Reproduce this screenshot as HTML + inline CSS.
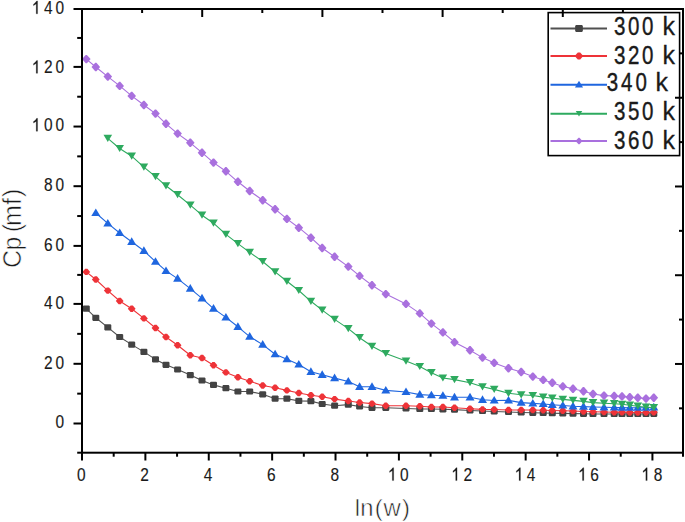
<!DOCTYPE html>
<html><head><meta charset="utf-8">
<style>
html,body{margin:0;padding:0;background:#fff;}
body{width:685px;height:522px;overflow:hidden;}
svg{display:block;}
text{font-family:"Liberation Sans",sans-serif;fill:#1a1a1a;stroke:#1a1a1a;stroke-width:0.15px;}
path.g1{fill:#1a1a1a;stroke:#1a1a1a;stroke-width:25px;}
</style></head>
<body>
<svg width="685" height="522" viewBox="0 0 685 522">
<rect width="685" height="522" fill="#fff"/>
<g>
<polyline fill="none" stroke="#505050" stroke-width="1.1" stroke-linejoin="round" points="86.3,308.6 95.8,317.8 107.8,327.4 119.7,337 131.7,344.6 143.9,351.9 155.5,359.4 166,364.8 177.6,369.5 190.3,375.1 202,380.5 213.5,384.9 225.9,388.2 237.9,391.5 249.7,391.5 262.7,394.3 275.1,398.7 286.9,398.7 298.8,400.9 310.9,401.1 322.2,404 334.6,405.7 348.3,404.6 359.6,406.5 372,407.8 385.8,407.8 406,408.5 419.8,409 431.4,409 442.9,409.3 454.5,409.6 470,410.5 482.5,411 494.2,411.5 508.5,412 521.2,412.5 532.8,412.8 543.2,413 552.3,413.2 562.8,413.4 573,413.6 583.5,413.8 593,414 604,414 614.2,414 622,414 629.8,414 637.8,414 646,414 653.8,413.8"/>
<polygon points="83.6,305.5 89,305.5 89.8,306.3 89.8,310.9 89,311.7 83.6,311.7 82.8,310.9 82.8,306.3" fill="#434343"/>
<polygon points="93.1,314.7 98.5,314.7 99.3,315.5 99.3,320.1 98.5,320.9 93.1,320.9 92.3,320.1 92.3,315.5" fill="#434343"/>
<polygon points="105.1,324.3 110.5,324.3 111.3,325.1 111.3,329.7 110.5,330.5 105.1,330.5 104.3,329.7 104.3,325.1" fill="#434343"/>
<polygon points="117,333.9 122.4,333.9 123.2,334.7 123.2,339.3 122.4,340.1 117,340.1 116.2,339.3 116.2,334.7" fill="#434343"/>
<polygon points="129,341.5 134.4,341.5 135.2,342.3 135.2,346.9 134.4,347.7 129,347.7 128.2,346.9 128.2,342.3" fill="#434343"/>
<polygon points="141.2,348.8 146.6,348.8 147.4,349.6 147.4,354.2 146.6,355 141.2,355 140.4,354.2 140.4,349.6" fill="#434343"/>
<polygon points="152.8,356.3 158.2,356.3 159,357.1 159,361.7 158.2,362.5 152.8,362.5 152,361.7 152,357.1" fill="#434343"/>
<polygon points="163.3,361.7 168.7,361.7 169.5,362.5 169.5,367.1 168.7,367.9 163.3,367.9 162.5,367.1 162.5,362.5" fill="#434343"/>
<polygon points="174.9,366.4 180.3,366.4 181.1,367.2 181.1,371.8 180.3,372.6 174.9,372.6 174.1,371.8 174.1,367.2" fill="#434343"/>
<polygon points="187.6,372 193,372 193.8,372.8 193.8,377.4 193,378.2 187.6,378.2 186.8,377.4 186.8,372.8" fill="#434343"/>
<polygon points="199.3,377.4 204.7,377.4 205.5,378.2 205.5,382.8 204.7,383.6 199.3,383.6 198.5,382.8 198.5,378.2" fill="#434343"/>
<polygon points="210.8,381.8 216.2,381.8 217,382.6 217,387.2 216.2,388 210.8,388 210,387.2 210,382.6" fill="#434343"/>
<polygon points="223.2,385.1 228.6,385.1 229.4,385.9 229.4,390.5 228.6,391.3 223.2,391.3 222.4,390.5 222.4,385.9" fill="#434343"/>
<polygon points="235.2,388.4 240.6,388.4 241.4,389.2 241.4,393.8 240.6,394.6 235.2,394.6 234.4,393.8 234.4,389.2" fill="#434343"/>
<polygon points="247,388.4 252.4,388.4 253.2,389.2 253.2,393.8 252.4,394.6 247,394.6 246.2,393.8 246.2,389.2" fill="#434343"/>
<polygon points="260,391.2 265.4,391.2 266.2,392 266.2,396.6 265.4,397.4 260,397.4 259.2,396.6 259.2,392" fill="#434343"/>
<polygon points="272.4,395.6 277.8,395.6 278.6,396.4 278.6,401 277.8,401.8 272.4,401.8 271.6,401 271.6,396.4" fill="#434343"/>
<polygon points="284.2,395.6 289.6,395.6 290.4,396.4 290.4,401 289.6,401.8 284.2,401.8 283.4,401 283.4,396.4" fill="#434343"/>
<polygon points="296.1,397.8 301.5,397.8 302.3,398.6 302.3,403.2 301.5,404 296.1,404 295.3,403.2 295.3,398.6" fill="#434343"/>
<polygon points="308.2,398 313.6,398 314.4,398.8 314.4,403.4 313.6,404.2 308.2,404.2 307.4,403.4 307.4,398.8" fill="#434343"/>
<polygon points="319.5,400.9 324.9,400.9 325.7,401.7 325.7,406.3 324.9,407.1 319.5,407.1 318.7,406.3 318.7,401.7" fill="#434343"/>
<polygon points="331.9,402.6 337.3,402.6 338.1,403.4 338.1,408 337.3,408.8 331.9,408.8 331.1,408 331.1,403.4" fill="#434343"/>
<polygon points="345.6,401.5 351,401.5 351.8,402.3 351.8,406.9 351,407.7 345.6,407.7 344.8,406.9 344.8,402.3" fill="#434343"/>
<polygon points="356.9,403.4 362.3,403.4 363.1,404.2 363.1,408.8 362.3,409.6 356.9,409.6 356.1,408.8 356.1,404.2" fill="#434343"/>
<polygon points="369.3,404.7 374.7,404.7 375.5,405.5 375.5,410.1 374.7,410.9 369.3,410.9 368.5,410.1 368.5,405.5" fill="#434343"/>
<polygon points="383.1,404.7 388.5,404.7 389.3,405.5 389.3,410.1 388.5,410.9 383.1,410.9 382.3,410.1 382.3,405.5" fill="#434343"/>
<polygon points="403.3,405.4 408.7,405.4 409.5,406.2 409.5,410.8 408.7,411.6 403.3,411.6 402.5,410.8 402.5,406.2" fill="#434343"/>
<polygon points="417.1,405.9 422.5,405.9 423.3,406.7 423.3,411.3 422.5,412.1 417.1,412.1 416.3,411.3 416.3,406.7" fill="#434343"/>
<polygon points="428.7,405.9 434.1,405.9 434.9,406.7 434.9,411.3 434.1,412.1 428.7,412.1 427.9,411.3 427.9,406.7" fill="#434343"/>
<polygon points="440.2,406.2 445.6,406.2 446.4,407 446.4,411.6 445.6,412.4 440.2,412.4 439.4,411.6 439.4,407" fill="#434343"/>
<polygon points="451.8,406.5 457.2,406.5 458,407.3 458,411.9 457.2,412.7 451.8,412.7 451,411.9 451,407.3" fill="#434343"/>
<polygon points="467.3,407.4 472.7,407.4 473.5,408.2 473.5,412.8 472.7,413.6 467.3,413.6 466.5,412.8 466.5,408.2" fill="#434343"/>
<polygon points="479.8,407.9 485.2,407.9 486,408.7 486,413.3 485.2,414.1 479.8,414.1 479,413.3 479,408.7" fill="#434343"/>
<polygon points="491.5,408.4 496.9,408.4 497.7,409.2 497.7,413.8 496.9,414.6 491.5,414.6 490.7,413.8 490.7,409.2" fill="#434343"/>
<polygon points="505.8,408.9 511.2,408.9 512,409.7 512,414.3 511.2,415.1 505.8,415.1 505,414.3 505,409.7" fill="#434343"/>
<polygon points="518.5,409.4 523.9,409.4 524.7,410.2 524.7,414.8 523.9,415.6 518.5,415.6 517.7,414.8 517.7,410.2" fill="#434343"/>
<polygon points="530.1,409.7 535.5,409.7 536.3,410.5 536.3,415.1 535.5,415.9 530.1,415.9 529.3,415.1 529.3,410.5" fill="#434343"/>
<polygon points="540.5,409.9 545.9,409.9 546.7,410.7 546.7,415.3 545.9,416.1 540.5,416.1 539.7,415.3 539.7,410.7" fill="#434343"/>
<polygon points="549.6,410.1 555,410.1 555.8,410.9 555.8,415.5 555,416.3 549.6,416.3 548.8,415.5 548.8,410.9" fill="#434343"/>
<polygon points="560.1,410.3 565.5,410.3 566.3,411.1 566.3,415.7 565.5,416.5 560.1,416.5 559.3,415.7 559.3,411.1" fill="#434343"/>
<polygon points="570.3,410.5 575.7,410.5 576.5,411.3 576.5,415.9 575.7,416.7 570.3,416.7 569.5,415.9 569.5,411.3" fill="#434343"/>
<polygon points="580.8,410.7 586.2,410.7 587,411.5 587,416.1 586.2,416.9 580.8,416.9 580,416.1 580,411.5" fill="#434343"/>
<polygon points="590.3,410.9 595.7,410.9 596.5,411.7 596.5,416.3 595.7,417.1 590.3,417.1 589.5,416.3 589.5,411.7" fill="#434343"/>
<polygon points="601.3,410.9 606.7,410.9 607.5,411.7 607.5,416.3 606.7,417.1 601.3,417.1 600.5,416.3 600.5,411.7" fill="#434343"/>
<polygon points="611.5,410.9 616.9,410.9 617.7,411.7 617.7,416.3 616.9,417.1 611.5,417.1 610.7,416.3 610.7,411.7" fill="#434343"/>
<polygon points="619.3,410.9 624.7,410.9 625.5,411.7 625.5,416.3 624.7,417.1 619.3,417.1 618.5,416.3 618.5,411.7" fill="#434343"/>
<polygon points="627.1,410.9 632.5,410.9 633.3,411.7 633.3,416.3 632.5,417.1 627.1,417.1 626.3,416.3 626.3,411.7" fill="#434343"/>
<polygon points="635.1,410.9 640.5,410.9 641.3,411.7 641.3,416.3 640.5,417.1 635.1,417.1 634.3,416.3 634.3,411.7" fill="#434343"/>
<polygon points="643.3,410.9 648.7,410.9 649.5,411.7 649.5,416.3 648.7,417.1 643.3,417.1 642.5,416.3 642.5,411.7" fill="#434343"/>
<polygon points="651.1,410.7 656.5,410.7 657.3,411.5 657.3,416.1 656.5,416.9 651.1,416.9 650.3,416.1 650.3,411.5" fill="#434343"/>
<polyline fill="none" stroke="#ee3338" stroke-width="1.1" stroke-linejoin="round" points="86.3,271.9 95.8,279.5 107.8,290.6 119.7,301 131.7,308.7 143.9,318.4 155.5,328 166,337 177.6,345.2 190.3,355.3 202,358 213.5,365.2 225.9,372.4 237.9,377.2 249.7,381.2 262.7,385.5 275.1,387.7 286.9,390.4 298.8,393 310.9,395.2 322.2,396.7 334.6,399.1 348.3,401 359.6,402.5 372,403.6 385.8,405.7 406,405.7 419.8,406.2 431.4,407 442.9,407 454.5,407.8 470,408.8 482.5,409.4 494.2,409.5 508.5,410 521.2,410 532.8,410 543.2,410.3 552.3,410.5 562.8,410.8 573,411 583.5,411.5 593,411.8 604,412 614.2,412.3 622,412.3 629.8,412.5 637.8,412.5 646,412.5 653.8,412.3"/>
<polygon points="85.2,268.7 87.4,268.7 90.2,271.9 87.4,275.1 85.2,275.1 82.4,271.9" fill="#ee3338"/>
<polygon points="94.7,276.3 96.9,276.3 99.7,279.5 96.9,282.7 94.7,282.7 91.9,279.5" fill="#ee3338"/>
<polygon points="106.7,287.4 108.9,287.4 111.7,290.6 108.9,293.8 106.7,293.8 103.9,290.6" fill="#ee3338"/>
<polygon points="118.6,297.8 120.8,297.8 123.6,301 120.8,304.2 118.6,304.2 115.8,301" fill="#ee3338"/>
<polygon points="130.6,305.5 132.8,305.5 135.6,308.7 132.8,311.9 130.6,311.9 127.8,308.7" fill="#ee3338"/>
<polygon points="142.8,315.2 145,315.2 147.8,318.4 145,321.6 142.8,321.6 140,318.4" fill="#ee3338"/>
<polygon points="154.4,324.8 156.6,324.8 159.4,328 156.6,331.2 154.4,331.2 151.6,328" fill="#ee3338"/>
<polygon points="164.9,333.8 167.1,333.8 169.9,337 167.1,340.2 164.9,340.2 162.1,337" fill="#ee3338"/>
<polygon points="176.5,342 178.7,342 181.5,345.2 178.7,348.4 176.5,348.4 173.7,345.2" fill="#ee3338"/>
<polygon points="189.2,352.1 191.4,352.1 194.2,355.3 191.4,358.5 189.2,358.5 186.4,355.3" fill="#ee3338"/>
<polygon points="200.9,354.8 203.1,354.8 205.9,358 203.1,361.2 200.9,361.2 198.1,358" fill="#ee3338"/>
<polygon points="212.4,362 214.6,362 217.4,365.2 214.6,368.4 212.4,368.4 209.6,365.2" fill="#ee3338"/>
<polygon points="224.8,369.2 227,369.2 229.8,372.4 227,375.6 224.8,375.6 222,372.4" fill="#ee3338"/>
<polygon points="236.8,374 239,374 241.8,377.2 239,380.4 236.8,380.4 234,377.2" fill="#ee3338"/>
<polygon points="248.6,378 250.8,378 253.6,381.2 250.8,384.4 248.6,384.4 245.8,381.2" fill="#ee3338"/>
<polygon points="261.6,382.3 263.8,382.3 266.6,385.5 263.8,388.7 261.6,388.7 258.8,385.5" fill="#ee3338"/>
<polygon points="274,384.5 276.2,384.5 279,387.7 276.2,390.9 274,390.9 271.2,387.7" fill="#ee3338"/>
<polygon points="285.8,387.2 288,387.2 290.8,390.4 288,393.6 285.8,393.6 283,390.4" fill="#ee3338"/>
<polygon points="297.7,389.8 299.9,389.8 302.7,393 299.9,396.2 297.7,396.2 294.9,393" fill="#ee3338"/>
<polygon points="309.8,392 312,392 314.8,395.2 312,398.4 309.8,398.4 307,395.2" fill="#ee3338"/>
<polygon points="321.1,393.5 323.3,393.5 326.1,396.7 323.3,399.9 321.1,399.9 318.3,396.7" fill="#ee3338"/>
<polygon points="333.5,395.9 335.7,395.9 338.5,399.1 335.7,402.3 333.5,402.3 330.7,399.1" fill="#ee3338"/>
<polygon points="347.2,397.8 349.4,397.8 352.2,401 349.4,404.2 347.2,404.2 344.4,401" fill="#ee3338"/>
<polygon points="358.5,399.3 360.7,399.3 363.5,402.5 360.7,405.7 358.5,405.7 355.7,402.5" fill="#ee3338"/>
<polygon points="370.9,400.4 373.1,400.4 375.9,403.6 373.1,406.8 370.9,406.8 368.1,403.6" fill="#ee3338"/>
<polygon points="384.7,402.5 386.9,402.5 389.7,405.7 386.9,408.9 384.7,408.9 381.9,405.7" fill="#ee3338"/>
<polygon points="404.9,402.5 407.1,402.5 409.9,405.7 407.1,408.9 404.9,408.9 402.1,405.7" fill="#ee3338"/>
<polygon points="418.7,403 420.9,403 423.7,406.2 420.9,409.4 418.7,409.4 415.9,406.2" fill="#ee3338"/>
<polygon points="430.3,403.8 432.5,403.8 435.3,407 432.5,410.2 430.3,410.2 427.5,407" fill="#ee3338"/>
<polygon points="441.8,403.8 444,403.8 446.8,407 444,410.2 441.8,410.2 439,407" fill="#ee3338"/>
<polygon points="453.4,404.6 455.6,404.6 458.4,407.8 455.6,411 453.4,411 450.6,407.8" fill="#ee3338"/>
<polygon points="468.9,405.6 471.1,405.6 473.9,408.8 471.1,412 468.9,412 466.1,408.8" fill="#ee3338"/>
<polygon points="481.4,406.2 483.6,406.2 486.4,409.4 483.6,412.6 481.4,412.6 478.6,409.4" fill="#ee3338"/>
<polygon points="493.1,406.3 495.3,406.3 498.1,409.5 495.3,412.7 493.1,412.7 490.3,409.5" fill="#ee3338"/>
<polygon points="507.4,406.8 509.6,406.8 512.4,410 509.6,413.2 507.4,413.2 504.6,410" fill="#ee3338"/>
<polygon points="520.1,406.8 522.3,406.8 525.1,410 522.3,413.2 520.1,413.2 517.3,410" fill="#ee3338"/>
<polygon points="531.7,406.8 533.9,406.8 536.7,410 533.9,413.2 531.7,413.2 528.9,410" fill="#ee3338"/>
<polygon points="542.1,407.1 544.3,407.1 547.1,410.3 544.3,413.5 542.1,413.5 539.3,410.3" fill="#ee3338"/>
<polygon points="551.2,407.3 553.4,407.3 556.2,410.5 553.4,413.7 551.2,413.7 548.4,410.5" fill="#ee3338"/>
<polygon points="561.7,407.6 563.9,407.6 566.7,410.8 563.9,414 561.7,414 558.9,410.8" fill="#ee3338"/>
<polygon points="571.9,407.8 574.1,407.8 576.9,411 574.1,414.2 571.9,414.2 569.1,411" fill="#ee3338"/>
<polygon points="582.4,408.3 584.6,408.3 587.4,411.5 584.6,414.7 582.4,414.7 579.6,411.5" fill="#ee3338"/>
<polygon points="591.9,408.6 594.1,408.6 596.9,411.8 594.1,415 591.9,415 589.1,411.8" fill="#ee3338"/>
<polygon points="602.9,408.8 605.1,408.8 607.9,412 605.1,415.2 602.9,415.2 600.1,412" fill="#ee3338"/>
<polygon points="613.1,409.1 615.3,409.1 618.1,412.3 615.3,415.5 613.1,415.5 610.3,412.3" fill="#ee3338"/>
<polygon points="620.9,409.1 623.1,409.1 625.9,412.3 623.1,415.5 620.9,415.5 618.1,412.3" fill="#ee3338"/>
<polygon points="628.7,409.3 630.9,409.3 633.7,412.5 630.9,415.7 628.7,415.7 625.9,412.5" fill="#ee3338"/>
<polygon points="636.7,409.3 638.9,409.3 641.7,412.5 638.9,415.7 636.7,415.7 633.9,412.5" fill="#ee3338"/>
<polygon points="644.9,409.3 647.1,409.3 649.9,412.5 647.1,415.7 644.9,415.7 642.1,412.5" fill="#ee3338"/>
<polygon points="652.7,409.1 654.9,409.1 657.7,412.3 654.9,415.5 652.7,415.5 649.9,412.3" fill="#ee3338"/>
<polyline fill="none" stroke="#1f66df" stroke-width="1.1" stroke-linejoin="round" points="95.8,213 107.8,223.4 119.7,233 131.7,241.8 143.9,250.8 155.5,261.7 166,270.9 177.6,278.6 190.3,288.6 202,298.3 213.5,308.6 225.9,317.4 237.9,326.8 249.7,336.6 262.7,344.6 275.1,354.2 286.9,359.2 298.8,364.5 310.9,371.8 322.2,374.8 334.6,378.1 348.3,381.5 359.6,386.8 372,386.8 385.8,390.4 406,392 419.8,394.6 431.4,395.2 442.9,395.7 454.5,397.3 470,397.3 482.5,399.8 494.2,400.5 508.5,400.4 521.2,402.6 532.8,403.4 543.2,404 552.3,404.8 562.8,405.5 573,406.3 583.5,406.6 593,407 604,407.3 614.2,407.5 622,407.6 629.8,407.7 637.8,407.7 646,407.6 653.8,407.3"/>
<polygon points="95.8,208.5 100.3,216.1 91.3,216.1" fill="#1f66df"/>
<polygon points="107.8,218.9 112.3,226.5 103.3,226.5" fill="#1f66df"/>
<polygon points="119.7,228.5 124.2,236.1 115.2,236.1" fill="#1f66df"/>
<polygon points="131.7,237.3 136.2,244.9 127.2,244.9" fill="#1f66df"/>
<polygon points="143.9,246.3 148.4,253.9 139.4,253.9" fill="#1f66df"/>
<polygon points="155.5,257.2 160,264.8 151,264.8" fill="#1f66df"/>
<polygon points="166,266.4 170.5,274 161.5,274" fill="#1f66df"/>
<polygon points="177.6,274.1 182.1,281.7 173.1,281.7" fill="#1f66df"/>
<polygon points="190.3,284.1 194.8,291.7 185.8,291.7" fill="#1f66df"/>
<polygon points="202,293.8 206.5,301.4 197.5,301.4" fill="#1f66df"/>
<polygon points="213.5,304.1 218,311.7 209,311.7" fill="#1f66df"/>
<polygon points="225.9,312.9 230.4,320.5 221.4,320.5" fill="#1f66df"/>
<polygon points="237.9,322.3 242.4,329.9 233.4,329.9" fill="#1f66df"/>
<polygon points="249.7,332.1 254.2,339.7 245.2,339.7" fill="#1f66df"/>
<polygon points="262.7,340.1 267.2,347.7 258.2,347.7" fill="#1f66df"/>
<polygon points="275.1,349.7 279.6,357.3 270.6,357.3" fill="#1f66df"/>
<polygon points="286.9,354.7 291.4,362.3 282.4,362.3" fill="#1f66df"/>
<polygon points="298.8,360 303.3,367.6 294.3,367.6" fill="#1f66df"/>
<polygon points="310.9,367.3 315.4,374.9 306.4,374.9" fill="#1f66df"/>
<polygon points="322.2,370.3 326.7,377.9 317.7,377.9" fill="#1f66df"/>
<polygon points="334.6,373.6 339.1,381.2 330.1,381.2" fill="#1f66df"/>
<polygon points="348.3,377 352.8,384.6 343.8,384.6" fill="#1f66df"/>
<polygon points="359.6,382.3 364.1,389.9 355.1,389.9" fill="#1f66df"/>
<polygon points="372,382.3 376.5,389.9 367.5,389.9" fill="#1f66df"/>
<polygon points="385.8,385.9 390.3,393.5 381.3,393.5" fill="#1f66df"/>
<polygon points="406,387.5 410.5,395.1 401.5,395.1" fill="#1f66df"/>
<polygon points="419.8,390.1 424.3,397.7 415.3,397.7" fill="#1f66df"/>
<polygon points="431.4,390.7 435.9,398.3 426.9,398.3" fill="#1f66df"/>
<polygon points="442.9,391.2 447.4,398.8 438.4,398.8" fill="#1f66df"/>
<polygon points="454.5,392.8 459,400.4 450,400.4" fill="#1f66df"/>
<polygon points="470,392.8 474.5,400.4 465.5,400.4" fill="#1f66df"/>
<polygon points="482.5,395.3 487,402.9 478,402.9" fill="#1f66df"/>
<polygon points="494.2,396 498.7,403.6 489.7,403.6" fill="#1f66df"/>
<polygon points="508.5,395.9 513,403.5 504,403.5" fill="#1f66df"/>
<polygon points="521.2,398.1 525.7,405.7 516.7,405.7" fill="#1f66df"/>
<polygon points="532.8,398.9 537.3,406.5 528.3,406.5" fill="#1f66df"/>
<polygon points="543.2,399.5 547.7,407.1 538.7,407.1" fill="#1f66df"/>
<polygon points="552.3,400.3 556.8,407.9 547.8,407.9" fill="#1f66df"/>
<polygon points="562.8,401 567.3,408.6 558.3,408.6" fill="#1f66df"/>
<polygon points="573,401.8 577.5,409.4 568.5,409.4" fill="#1f66df"/>
<polygon points="583.5,402.1 588,409.7 579,409.7" fill="#1f66df"/>
<polygon points="593,402.5 597.5,410.1 588.5,410.1" fill="#1f66df"/>
<polygon points="604,402.8 608.5,410.4 599.5,410.4" fill="#1f66df"/>
<polygon points="614.2,403 618.7,410.6 609.7,410.6" fill="#1f66df"/>
<polygon points="622,403.1 626.5,410.7 617.5,410.7" fill="#1f66df"/>
<polygon points="629.8,403.2 634.3,410.8 625.3,410.8" fill="#1f66df"/>
<polygon points="637.8,403.2 642.3,410.8 633.3,410.8" fill="#1f66df"/>
<polygon points="646,403.1 650.5,410.7 641.5,410.7" fill="#1f66df"/>
<polygon points="653.8,402.8 658.3,410.4 649.3,410.4" fill="#1f66df"/>
<polyline fill="none" stroke="#2eaa5f" stroke-width="1.1" stroke-linejoin="round" points="107.8,138.3 119.7,148.5 131.7,156.2 143.9,167.1 155.5,176.7 166,185.8 177.6,194.7 190.3,205.1 202,215.2 213.5,223.2 225.9,234.4 237.9,243.6 249.7,252.4 262.7,261.5 275.1,271.8 286.9,281.3 298.8,290.5 310.9,301.3 322.2,310.1 334.6,319.4 348.3,328.6 359.6,337.7 372,346.3 385.8,353.5 406,361.1 419.8,366.5 431.4,372.7 442.9,378 454.5,379.6 470,382.7 482.5,386.8 494.2,389.4 508.5,393.3 521.2,394.8 532.8,395.5 543.2,397.1 552.3,398.2 562.8,399.4 573,400.4 583.5,401.4 593,402.6 604,403.2 614.2,403.7 622,404.3 629.8,405.2 637.8,406.2 646,407.2 653.8,407.7"/>
<polygon points="103.5,134.7 112.1,134.7 107.8,141.9" fill="#2eaa5f"/>
<polygon points="115.4,144.9 124,144.9 119.7,152.1" fill="#2eaa5f"/>
<polygon points="127.4,152.6 136,152.6 131.7,159.8" fill="#2eaa5f"/>
<polygon points="139.6,163.5 148.2,163.5 143.9,170.7" fill="#2eaa5f"/>
<polygon points="151.2,173.1 159.8,173.1 155.5,180.3" fill="#2eaa5f"/>
<polygon points="161.7,182.2 170.3,182.2 166,189.4" fill="#2eaa5f"/>
<polygon points="173.3,191.1 181.9,191.1 177.6,198.3" fill="#2eaa5f"/>
<polygon points="186,201.5 194.6,201.5 190.3,208.7" fill="#2eaa5f"/>
<polygon points="197.7,211.6 206.3,211.6 202,218.8" fill="#2eaa5f"/>
<polygon points="209.2,219.6 217.8,219.6 213.5,226.8" fill="#2eaa5f"/>
<polygon points="221.6,230.8 230.2,230.8 225.9,238" fill="#2eaa5f"/>
<polygon points="233.6,240 242.2,240 237.9,247.2" fill="#2eaa5f"/>
<polygon points="245.4,248.8 254,248.8 249.7,256" fill="#2eaa5f"/>
<polygon points="258.4,257.9 267,257.9 262.7,265.1" fill="#2eaa5f"/>
<polygon points="270.8,268.2 279.4,268.2 275.1,275.4" fill="#2eaa5f"/>
<polygon points="282.6,277.7 291.2,277.7 286.9,284.9" fill="#2eaa5f"/>
<polygon points="294.5,286.9 303.1,286.9 298.8,294.1" fill="#2eaa5f"/>
<polygon points="306.6,297.7 315.2,297.7 310.9,304.9" fill="#2eaa5f"/>
<polygon points="317.9,306.5 326.5,306.5 322.2,313.7" fill="#2eaa5f"/>
<polygon points="330.3,315.8 338.9,315.8 334.6,323" fill="#2eaa5f"/>
<polygon points="344,325 352.6,325 348.3,332.2" fill="#2eaa5f"/>
<polygon points="355.3,334.1 363.9,334.1 359.6,341.3" fill="#2eaa5f"/>
<polygon points="367.7,342.7 376.3,342.7 372,349.9" fill="#2eaa5f"/>
<polygon points="381.5,349.9 390.1,349.9 385.8,357.1" fill="#2eaa5f"/>
<polygon points="401.7,357.5 410.3,357.5 406,364.7" fill="#2eaa5f"/>
<polygon points="415.5,362.9 424.1,362.9 419.8,370.1" fill="#2eaa5f"/>
<polygon points="427.1,369.1 435.7,369.1 431.4,376.3" fill="#2eaa5f"/>
<polygon points="438.6,374.4 447.2,374.4 442.9,381.6" fill="#2eaa5f"/>
<polygon points="450.2,376 458.8,376 454.5,383.2" fill="#2eaa5f"/>
<polygon points="465.7,379.1 474.3,379.1 470,386.3" fill="#2eaa5f"/>
<polygon points="478.2,383.2 486.8,383.2 482.5,390.4" fill="#2eaa5f"/>
<polygon points="489.9,385.8 498.5,385.8 494.2,393" fill="#2eaa5f"/>
<polygon points="504.2,389.7 512.8,389.7 508.5,396.9" fill="#2eaa5f"/>
<polygon points="516.9,391.2 525.5,391.2 521.2,398.4" fill="#2eaa5f"/>
<polygon points="528.5,391.9 537.1,391.9 532.8,399.1" fill="#2eaa5f"/>
<polygon points="538.9,393.5 547.5,393.5 543.2,400.7" fill="#2eaa5f"/>
<polygon points="548,394.6 556.6,394.6 552.3,401.8" fill="#2eaa5f"/>
<polygon points="558.5,395.8 567.1,395.8 562.8,403" fill="#2eaa5f"/>
<polygon points="568.7,396.8 577.3,396.8 573,404" fill="#2eaa5f"/>
<polygon points="579.2,397.8 587.8,397.8 583.5,405" fill="#2eaa5f"/>
<polygon points="588.7,399 597.3,399 593,406.2" fill="#2eaa5f"/>
<polygon points="599.7,399.6 608.3,399.6 604,406.8" fill="#2eaa5f"/>
<polygon points="609.9,400.1 618.5,400.1 614.2,407.3" fill="#2eaa5f"/>
<polygon points="617.7,400.7 626.3,400.7 622,407.9" fill="#2eaa5f"/>
<polygon points="625.5,401.6 634.1,401.6 629.8,408.8" fill="#2eaa5f"/>
<polygon points="633.5,402.6 642.1,402.6 637.8,409.8" fill="#2eaa5f"/>
<polygon points="641.7,403.6 650.3,403.6 646,410.8" fill="#2eaa5f"/>
<polygon points="649.5,404.1 658.1,404.1 653.8,411.3" fill="#2eaa5f"/>
<polyline fill="none" stroke="#a970de" stroke-width="1.1" stroke-linejoin="round" points="86.3,59.1 95.8,67 107.8,76.6 119.7,85.9 131.7,95.9 143.9,105 155.5,113.6 166,123.8 177.6,133.6 190.3,142.8 202,152.7 213.5,162.6 225.9,171.3 237.9,181.8 249.7,191 262.7,200.2 275.1,209.2 286.9,218.9 298.8,227.7 310.9,237.7 322.2,248 334.6,256.8 348.3,266.6 359.6,275.9 372,285.3 385.8,294.1 406,303.9 419.8,313.4 431.4,323.6 442.9,332.4 454.5,342.2 470,350.3 482.5,357.6 494.2,362.9 508.5,368.3 521.2,372 532.8,376.6 543.2,379.9 552.3,382.8 562.8,386.4 573,388.8 583.5,391.2 593,394 604,395.6 614.2,396 622,396.4 629.8,397.2 637.8,397.8 646,398.6 653.8,397.8"/>
<polygon points="85.7,54.9 86.9,54.9 90.6,59.1 86.9,63.3 85.7,63.3 82,59.1" fill="#a970de"/>
<polygon points="95.2,62.8 96.4,62.8 100.1,67 96.4,71.2 95.2,71.2 91.5,67" fill="#a970de"/>
<polygon points="107.2,72.4 108.4,72.4 112.1,76.6 108.4,80.8 107.2,80.8 103.5,76.6" fill="#a970de"/>
<polygon points="119.1,81.7 120.3,81.7 124,85.9 120.3,90.1 119.1,90.1 115.4,85.9" fill="#a970de"/>
<polygon points="131.1,91.7 132.3,91.7 136,95.9 132.3,100.1 131.1,100.1 127.4,95.9" fill="#a970de"/>
<polygon points="143.3,100.8 144.5,100.8 148.2,105 144.5,109.2 143.3,109.2 139.6,105" fill="#a970de"/>
<polygon points="154.9,109.4 156.1,109.4 159.8,113.6 156.1,117.8 154.9,117.8 151.2,113.6" fill="#a970de"/>
<polygon points="165.4,119.6 166.6,119.6 170.3,123.8 166.6,128 165.4,128 161.7,123.8" fill="#a970de"/>
<polygon points="177,129.4 178.2,129.4 181.9,133.6 178.2,137.8 177,137.8 173.3,133.6" fill="#a970de"/>
<polygon points="189.7,138.6 190.9,138.6 194.6,142.8 190.9,147 189.7,147 186,142.8" fill="#a970de"/>
<polygon points="201.4,148.5 202.6,148.5 206.3,152.7 202.6,156.9 201.4,156.9 197.7,152.7" fill="#a970de"/>
<polygon points="212.9,158.4 214.1,158.4 217.8,162.6 214.1,166.8 212.9,166.8 209.2,162.6" fill="#a970de"/>
<polygon points="225.3,167.1 226.5,167.1 230.2,171.3 226.5,175.5 225.3,175.5 221.6,171.3" fill="#a970de"/>
<polygon points="237.3,177.6 238.5,177.6 242.2,181.8 238.5,186 237.3,186 233.6,181.8" fill="#a970de"/>
<polygon points="249.1,186.8 250.3,186.8 254,191 250.3,195.2 249.1,195.2 245.4,191" fill="#a970de"/>
<polygon points="262.1,196 263.3,196 267,200.2 263.3,204.4 262.1,204.4 258.4,200.2" fill="#a970de"/>
<polygon points="274.5,205 275.7,205 279.4,209.2 275.7,213.4 274.5,213.4 270.8,209.2" fill="#a970de"/>
<polygon points="286.3,214.7 287.5,214.7 291.2,218.9 287.5,223.1 286.3,223.1 282.6,218.9" fill="#a970de"/>
<polygon points="298.2,223.5 299.4,223.5 303.1,227.7 299.4,231.9 298.2,231.9 294.5,227.7" fill="#a970de"/>
<polygon points="310.3,233.5 311.5,233.5 315.2,237.7 311.5,241.9 310.3,241.9 306.6,237.7" fill="#a970de"/>
<polygon points="321.6,243.8 322.8,243.8 326.5,248 322.8,252.2 321.6,252.2 317.9,248" fill="#a970de"/>
<polygon points="334,252.6 335.2,252.6 338.9,256.8 335.2,261 334,261 330.3,256.8" fill="#a970de"/>
<polygon points="347.7,262.4 348.9,262.4 352.6,266.6 348.9,270.8 347.7,270.8 344,266.6" fill="#a970de"/>
<polygon points="359,271.7 360.2,271.7 363.9,275.9 360.2,280.1 359,280.1 355.3,275.9" fill="#a970de"/>
<polygon points="371.4,281.1 372.6,281.1 376.3,285.3 372.6,289.5 371.4,289.5 367.7,285.3" fill="#a970de"/>
<polygon points="385.2,289.9 386.4,289.9 390.1,294.1 386.4,298.3 385.2,298.3 381.5,294.1" fill="#a970de"/>
<polygon points="405.4,299.7 406.6,299.7 410.3,303.9 406.6,308.1 405.4,308.1 401.7,303.9" fill="#a970de"/>
<polygon points="419.2,309.2 420.4,309.2 424.1,313.4 420.4,317.6 419.2,317.6 415.5,313.4" fill="#a970de"/>
<polygon points="430.8,319.4 432,319.4 435.7,323.6 432,327.8 430.8,327.8 427.1,323.6" fill="#a970de"/>
<polygon points="442.3,328.2 443.5,328.2 447.2,332.4 443.5,336.6 442.3,336.6 438.6,332.4" fill="#a970de"/>
<polygon points="453.9,338 455.1,338 458.8,342.2 455.1,346.4 453.9,346.4 450.2,342.2" fill="#a970de"/>
<polygon points="469.4,346.1 470.6,346.1 474.3,350.3 470.6,354.5 469.4,354.5 465.7,350.3" fill="#a970de"/>
<polygon points="481.9,353.4 483.1,353.4 486.8,357.6 483.1,361.8 481.9,361.8 478.2,357.6" fill="#a970de"/>
<polygon points="493.6,358.7 494.8,358.7 498.5,362.9 494.8,367.1 493.6,367.1 489.9,362.9" fill="#a970de"/>
<polygon points="507.9,364.1 509.1,364.1 512.8,368.3 509.1,372.5 507.9,372.5 504.2,368.3" fill="#a970de"/>
<polygon points="520.6,367.8 521.8,367.8 525.5,372 521.8,376.2 520.6,376.2 516.9,372" fill="#a970de"/>
<polygon points="532.2,372.4 533.4,372.4 537.1,376.6 533.4,380.8 532.2,380.8 528.5,376.6" fill="#a970de"/>
<polygon points="542.6,375.7 543.8,375.7 547.5,379.9 543.8,384.1 542.6,384.1 538.9,379.9" fill="#a970de"/>
<polygon points="551.7,378.6 552.9,378.6 556.6,382.8 552.9,387 551.7,387 548,382.8" fill="#a970de"/>
<polygon points="562.2,382.2 563.4,382.2 567.1,386.4 563.4,390.6 562.2,390.6 558.5,386.4" fill="#a970de"/>
<polygon points="572.4,384.6 573.6,384.6 577.3,388.8 573.6,393 572.4,393 568.7,388.8" fill="#a970de"/>
<polygon points="582.9,387 584.1,387 587.8,391.2 584.1,395.4 582.9,395.4 579.2,391.2" fill="#a970de"/>
<polygon points="592.4,389.8 593.6,389.8 597.3,394 593.6,398.2 592.4,398.2 588.7,394" fill="#a970de"/>
<polygon points="603.4,391.4 604.6,391.4 608.3,395.6 604.6,399.8 603.4,399.8 599.7,395.6" fill="#a970de"/>
<polygon points="613.6,391.8 614.8,391.8 618.5,396 614.8,400.2 613.6,400.2 609.9,396" fill="#a970de"/>
<polygon points="621.4,392.2 622.6,392.2 626.3,396.4 622.6,400.6 621.4,400.6 617.7,396.4" fill="#a970de"/>
<polygon points="629.2,393 630.4,393 634.1,397.2 630.4,401.4 629.2,401.4 625.5,397.2" fill="#a970de"/>
<polygon points="637.2,393.6 638.4,393.6 642.1,397.8 638.4,402 637.2,402 633.5,397.8" fill="#a970de"/>
<polygon points="645.4,394.4 646.6,394.4 650.3,398.6 646.6,402.8 645.4,402.8 641.7,398.6" fill="#a970de"/>
<polygon points="653.2,393.6 654.4,393.6 658.1,397.8 654.4,402 653.2,402 649.5,397.8" fill="#a970de"/>
</g>
<g>
<rect x="548.2" y="12.6" width="131.4" height="143" fill="#fff" stroke="#000" stroke-width="1.6"/>
<line x1="550.5" y1="28.5" x2="607" y2="28.5" stroke="#505050" stroke-width="2"/>
<polygon points="576.03,25.09 581.97,25.09 582.85,25.97 582.85,31.03 581.97,31.91 576.03,31.91 575.15,31.03 575.15,25.97" fill="#434343"/>
<text transform="translate(619.8,34.7) scale(0.82,1)" text-anchor="middle" style="font-size:25.0px;stroke-width:0.4px">3</text>
<text transform="translate(633.6,34.7) scale(0.82,1)" text-anchor="middle" style="font-size:25.0px;stroke-width:0.4px">0</text>
<text transform="translate(647.8,34.7) scale(0.82,1)" text-anchor="middle" style="font-size:25.0px;stroke-width:0.4px">0</text>
<text x="662.5" y="34.7" style="font-size:25.0px;stroke-width:0.3px">k</text>
<line x1="550.5" y1="56" x2="607" y2="56" stroke="#ee3338" stroke-width="2"/>
<polygon points="577.79,52.48 580.21,52.48 583.29,56 580.21,59.52 577.79,59.52 574.71,56" fill="#ee3338"/>
<text transform="translate(619.8,64.1) scale(0.82,1)" text-anchor="middle" style="font-size:25.0px;stroke-width:0.4px">3</text>
<text transform="translate(633.6,64.1) scale(0.82,1)" text-anchor="middle" style="font-size:25.0px;stroke-width:0.4px">2</text>
<text transform="translate(647.8,64.1) scale(0.82,1)" text-anchor="middle" style="font-size:25.0px;stroke-width:0.4px">0</text>
<text x="662.5" y="64.1" style="font-size:25.0px;stroke-width:0.3px">k</text>
<line x1="550.5" y1="84.7" x2="607" y2="84.7" stroke="#1f66df" stroke-width="2"/>
<polygon points="579,80.65 583.05,87.49 574.95,87.49" fill="#1f66df"/>
<text transform="translate(612.4,91.3) scale(0.82,1)" text-anchor="middle" style="font-size:25.0px;stroke-width:0.4px">3</text>
<text transform="translate(626.6,91.3) scale(0.82,1)" text-anchor="middle" style="font-size:25.0px;stroke-width:0.4px">4</text>
<text transform="translate(641.2,91.3) scale(0.82,1)" text-anchor="middle" style="font-size:25.0px;stroke-width:0.4px">0</text>
<text x="655.5" y="91.3" style="font-size:25.0px;stroke-width:0.3px">k</text>
<line x1="550.5" y1="113.8" x2="607" y2="113.8" stroke="#2eaa5f" stroke-width="2"/>
<polygon points="575.77,111.1 582.23,111.1 579,116.5" fill="#2eaa5f"/>
<text transform="translate(619.8,120) scale(0.82,1)" text-anchor="middle" style="font-size:25.0px;stroke-width:0.4px">3</text>
<text transform="translate(633.6,120) scale(0.82,1)" text-anchor="middle" style="font-size:25.0px;stroke-width:0.4px">5</text>
<text transform="translate(647.8,120) scale(0.82,1)" text-anchor="middle" style="font-size:25.0px;stroke-width:0.4px">0</text>
<text x="662.5" y="120" style="font-size:25.0px;stroke-width:0.3px">k</text>
<line x1="550.5" y1="141" x2="607" y2="141" stroke="#a970de" stroke-width="2"/>
<polygon points="578.52,137.64 579.48,137.64 582.44,141 579.48,144.36 578.52,144.36 575.56,141" fill="#a970de"/>
<text transform="translate(619.8,149.3) scale(0.82,1)" text-anchor="middle" style="font-size:25.0px;stroke-width:0.4px">3</text>
<text transform="translate(633.6,149.3) scale(0.82,1)" text-anchor="middle" style="font-size:25.0px;stroke-width:0.4px">6</text>
<text transform="translate(647.8,149.3) scale(0.82,1)" text-anchor="middle" style="font-size:25.0px;stroke-width:0.4px">0</text>
<text x="662.5" y="149.3" style="font-size:25.0px;stroke-width:0.3px">k</text>
</g>
<g stroke="#000" stroke-width="2" fill="none">
<rect x="82" y="9" width="601" height="443.7" fill="none" stroke="#000" stroke-width="2"/>
<line x1="77.2" y1="452.7" x2="82" y2="452.7"/>
<line x1="73.5" y1="423.5" x2="82" y2="423.5"/>
<line x1="77.2" y1="393.65" x2="82" y2="393.65"/>
<line x1="73.5" y1="363.8" x2="82" y2="363.8"/>
<line x1="77.2" y1="333.85" x2="82" y2="333.85"/>
<line x1="73.5" y1="303.9" x2="82" y2="303.9"/>
<line x1="77.2" y1="274.9" x2="82" y2="274.9"/>
<line x1="73.5" y1="245.9" x2="82" y2="245.9"/>
<line x1="77.2" y1="216.05" x2="82" y2="216.05"/>
<line x1="73.5" y1="186.2" x2="82" y2="186.2"/>
<line x1="77.2" y1="156.38" x2="82" y2="156.38"/>
<line x1="73.5" y1="126.55" x2="82" y2="126.55"/>
<line x1="77.2" y1="96.72" x2="82" y2="96.72"/>
<line x1="73.5" y1="66.9" x2="82" y2="66.9"/>
<line x1="77.2" y1="37.95" x2="82" y2="37.95"/>
<line x1="73.5" y1="9" x2="82" y2="9"/>
<line x1="82" y1="452.7" x2="82" y2="460.5"/>
<line x1="113.69" y1="452.7" x2="113.69" y2="456.7"/>
<line x1="145.38" y1="452.7" x2="145.38" y2="460.5"/>
<line x1="177.07" y1="452.7" x2="177.07" y2="456.7"/>
<line x1="208.76" y1="452.7" x2="208.76" y2="460.5"/>
<line x1="240.45" y1="452.7" x2="240.45" y2="456.7"/>
<line x1="272.14" y1="452.7" x2="272.14" y2="460.5"/>
<line x1="303.83" y1="452.7" x2="303.83" y2="456.7"/>
<line x1="335.52" y1="452.7" x2="335.52" y2="460.5"/>
<line x1="367.21" y1="452.7" x2="367.21" y2="456.7"/>
<line x1="398.9" y1="452.7" x2="398.9" y2="460.5"/>
<line x1="430.59" y1="452.7" x2="430.59" y2="456.7"/>
<line x1="462.28" y1="452.7" x2="462.28" y2="460.5"/>
<line x1="493.97" y1="452.7" x2="493.97" y2="456.7"/>
<line x1="525.66" y1="452.7" x2="525.66" y2="460.5"/>
<line x1="557.35" y1="452.7" x2="557.35" y2="456.7"/>
<line x1="589.04" y1="452.7" x2="589.04" y2="460.5"/>
<line x1="620.73" y1="452.7" x2="620.73" y2="456.7"/>
<line x1="652.42" y1="452.7" x2="652.42" y2="460.5"/>
<line x1="683" y1="452.7" x2="683" y2="456.7"/>
<line x1="142.1" y1="9" x2="142.1" y2="13"/>
<line x1="202.2" y1="9" x2="202.2" y2="17"/>
<line x1="262.3" y1="9" x2="262.3" y2="13"/>
<line x1="322.4" y1="9" x2="322.4" y2="17"/>
<line x1="382.5" y1="9" x2="382.5" y2="13"/>
<line x1="442.6" y1="9" x2="442.6" y2="17"/>
<line x1="502.7" y1="9" x2="502.7" y2="13"/>
<line x1="562.8" y1="9" x2="562.8" y2="17"/>
<line x1="622.9" y1="9" x2="622.9" y2="13"/>
<line x1="683" y1="53.37" x2="679" y2="53.37"/>
<line x1="683" y1="97.74" x2="675" y2="97.74"/>
<line x1="683" y1="142.11" x2="679" y2="142.11"/>
<line x1="683" y1="186.48" x2="675" y2="186.48"/>
<line x1="683" y1="230.85" x2="679" y2="230.85"/>
<line x1="683" y1="275.22" x2="675" y2="275.22"/>
<line x1="683" y1="319.59" x2="679" y2="319.59"/>
<line x1="683" y1="363.96" x2="675" y2="363.96"/>
<line x1="683" y1="408.33" x2="679" y2="408.33"/>
</g>
<g>
<text transform="translate(59.7,428.4) scale(0.86,1)" text-anchor="middle" style="font-size:18.0px">0</text>
<text transform="translate(48.3,369) scale(0.86,1)" text-anchor="middle" style="font-size:18.0px">2</text>
<text transform="translate(59.7,369) scale(0.86,1)" text-anchor="middle" style="font-size:18.0px">0</text>
<text transform="translate(48.3,308.9) scale(0.86,1)" text-anchor="middle" style="font-size:18.0px">4</text>
<text transform="translate(59.7,308.9) scale(0.86,1)" text-anchor="middle" style="font-size:18.0px">0</text>
<text transform="translate(48.3,250.95) scale(0.86,1)" text-anchor="middle" style="font-size:18.0px">6</text>
<text transform="translate(59.7,250.95) scale(0.86,1)" text-anchor="middle" style="font-size:18.0px">0</text>
<text transform="translate(48.3,190.95) scale(0.86,1)" text-anchor="middle" style="font-size:18.0px">8</text>
<text transform="translate(59.7,190.95) scale(0.86,1)" text-anchor="middle" style="font-size:18.0px">0</text>
<path class="g1" d="M763 0L583 0L583 1147C518 1085 412 1023 221 930L221 1104C372 1175 485 1276 560 1370C600 1420 630 1450 645 1472L763 1472Z" transform="translate(31.81,131.25) scale(0.00756,-0.00879)"/>
<text transform="translate(48.3,131.25) scale(0.86,1)" text-anchor="middle" style="font-size:18.0px">0</text>
<text transform="translate(59.7,131.25) scale(0.86,1)" text-anchor="middle" style="font-size:18.0px">0</text>
<path class="g1" d="M763 0L583 0L583 1147C518 1085 412 1023 221 930L221 1104C372 1175 485 1276 560 1370C600 1420 630 1450 645 1472L763 1472Z" transform="translate(31.81,73.35) scale(0.00756,-0.00879)"/>
<text transform="translate(48.3,73.35) scale(0.86,1)" text-anchor="middle" style="font-size:18.0px">2</text>
<text transform="translate(59.7,73.35) scale(0.86,1)" text-anchor="middle" style="font-size:18.0px">0</text>
<path class="g1" d="M763 0L583 0L583 1147C518 1085 412 1023 221 930L221 1104C372 1175 485 1276 560 1370C600 1420 630 1450 645 1472L763 1472Z" transform="translate(31.81,13.85) scale(0.00756,-0.00879)"/>
<text transform="translate(48.3,13.85) scale(0.86,1)" text-anchor="middle" style="font-size:18.0px">4</text>
<text transform="translate(59.7,13.85) scale(0.86,1)" text-anchor="middle" style="font-size:18.0px">0</text>
<text transform="translate(81.2,480.6) scale(0.86,1)" text-anchor="middle" style="font-size:18.0px">0</text>
<text transform="translate(144.58,480.6) scale(0.86,1)" text-anchor="middle" style="font-size:18.0px">2</text>
<text transform="translate(207.96,480.6) scale(0.86,1)" text-anchor="middle" style="font-size:18.0px">4</text>
<text transform="translate(271.34,480.6) scale(0.86,1)" text-anchor="middle" style="font-size:18.0px">6</text>
<text transform="translate(334.72,480.6) scale(0.86,1)" text-anchor="middle" style="font-size:18.0px">8</text>
<path class="g1" d="M763 0L583 0L583 1147C518 1085 412 1023 221 930L221 1104C372 1175 485 1276 560 1370C600 1420 630 1450 645 1472L763 1472Z" transform="translate(387.91,480.6) scale(0.00756,-0.00879)"/>
<text transform="translate(404.4,480.6) scale(0.86,1)" text-anchor="middle" style="font-size:18.0px">0</text>
<path class="g1" d="M763 0L583 0L583 1147C518 1085 412 1023 221 930L221 1104C372 1175 485 1276 560 1370C600 1420 630 1450 645 1472L763 1472Z" transform="translate(451.29,480.6) scale(0.00756,-0.00879)"/>
<text transform="translate(467.78,480.6) scale(0.86,1)" text-anchor="middle" style="font-size:18.0px">2</text>
<path class="g1" d="M763 0L583 0L583 1147C518 1085 412 1023 221 930L221 1104C372 1175 485 1276 560 1370C600 1420 630 1450 645 1472L763 1472Z" transform="translate(514.67,480.6) scale(0.00756,-0.00879)"/>
<text transform="translate(531.16,480.6) scale(0.86,1)" text-anchor="middle" style="font-size:18.0px">4</text>
<path class="g1" d="M763 0L583 0L583 1147C518 1085 412 1023 221 930L221 1104C372 1175 485 1276 560 1370C600 1420 630 1450 645 1472L763 1472Z" transform="translate(578.05,480.6) scale(0.00756,-0.00879)"/>
<text transform="translate(594.54,480.6) scale(0.86,1)" text-anchor="middle" style="font-size:18.0px">6</text>
<path class="g1" d="M763 0L583 0L583 1147C518 1085 412 1023 221 930L221 1104C372 1175 485 1276 560 1370C600 1420 630 1450 645 1472L763 1472Z" transform="translate(641.43,480.6) scale(0.00756,-0.00879)"/>
<text transform="translate(657.92,480.6) scale(0.86,1)" text-anchor="middle" style="font-size:18.0px">8</text>
</g>
<text transform="translate(21.4,268) rotate(-90)" style="font-size:25px;stroke:#fff;stroke-width:0.55px" x="0 17.6 31 35.7 41.9 63.1 71.1">Cp (mf)</text>
<text style="font-size:23.8px;stroke:#fff;stroke-width:0.55px" x="354.8 360.2 374.8 383.5 401.9" y="516.2">ln(w)</text>
</svg>
</body></html>
